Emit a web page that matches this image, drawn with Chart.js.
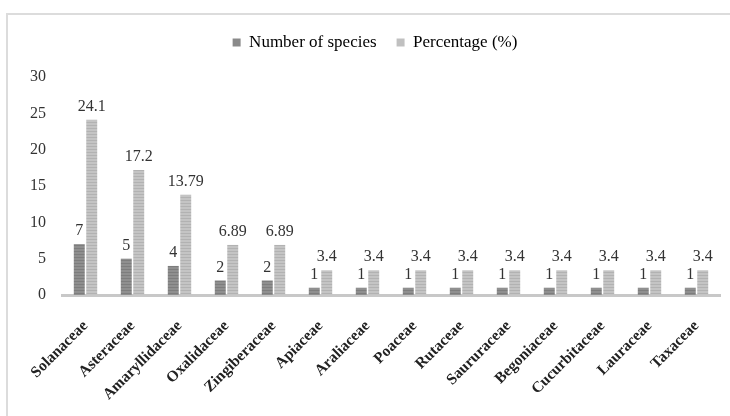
<!DOCTYPE html>
<html lang="en">
<head>
    <meta charset="UTF-8">
    <script src="https://cdn.jsdelivr.net/npm/chart.js"></script>
    <title>Families</title>
    <style>
        body { margin: 0; background: #fff; }
        .frame {
            position: absolute; left: 6px; top: 13px; width: 740px; height: 420px;
            border: 2px solid #dcdcdc; box-sizing: border-box;
        }
        #wrap { position: absolute; left: 0; top: 0; width: 730px; height: 416px; }
    </style>
</head>
<body>
    <div class="frame"></div>
    <div id="wrap"><canvas id="famChart"></canvas></div>

    <script>
        // chart data
        const families = ['Solanaceae', 'Asteraceae', 'Amaryllidaceae', 'Oxalidaceae', 'Zingiberaceae',
            'Apiaceae', 'Araliaceae', 'Poaceae', 'Rutaceae', 'Saururaceae', 'Begoniaceae',
            'Cucurbitaceae', 'Lauraceae', 'Taxaceae'];
        const speciesCount = [7, 5, 4, 2, 2, 1, 1, 1, 1, 1, 1, 1, 1, 1];
        const percentValues = [24.1, 17.2, 13.79, 6.89, 6.89, 3.4, 3.4, 3.4, 3.4, 3.4, 3.4, 3.4, 3.4, 3.4];
        const percentLabels = ['24.1', '17.2', '13.79', '6.89', '6.89', '3.4', '3.4', '3.4', '3.4', '3.4', '3.4', '3.4', '3.4', '3.4'];
        const yTicks = [0, 5, 10, 15, 20, 25, 30];

        // striped fill like the scanned figure
        function stripes(base, line) {
            const c = document.createElement('canvas');
            c.width = 4; c.height = 3;
            const g = c.getContext('2d');
            g.fillStyle = base;
            g.fillRect(0, 0, 4, 3);
            g.fillStyle = line;
            g.fillRect(0, 2, 4, 1);
            return g.createPattern(c, 'repeat');
        }

        // value labels above each bar
        const valueLabels = {
            id: 'valueLabels',
            afterDatasetsDraw(chart) {
                const ctx = chart.ctx;
                ctx.save();
                ctx.font = '16px "Liberation Serif", serif';
                ctx.fillStyle = '#333';
                ctx.textAlign = 'center';
                ctx.textBaseline = 'bottom';
                chart.data.datasets.forEach((ds, i) => {
                    chart.getDatasetMeta(i).data.forEach((bar, j) => {
                        const txt = i === 0 ? String(speciesCount[j]) : percentLabels[j];
                        ctx.fillText(txt, bar.x, bar.y - 5);
                    });
                });
                ctx.restore();
            }
        };

        // extra room under the legend
        const legendGap = {
            id: 'legendGap',
            beforeInit(chart) {
                const fit = chart.legend.fit;
                chart.legend.fit = function () {
                    fit.bind(chart.legend)();
                    this.height += 16;
                };
            }
        };

        const ctx = document.getElementById('famChart').getContext('2d');
        new Chart(ctx, {
            type: 'bar',
            data: {
                labels: families,
                datasets: [{
                    label: 'Number of species',
                    data: speciesCount,
                    backgroundColor: stripes('#8f8f8f', '#7d7d7d'),
                    barPercentage: 0.88,
                    categoryPercentage: 0.53
                }, {
                    label: 'Percentage (%)',
                    data: percentValues,
                    backgroundColor: stripes('#c4c4c4', '#b2b2b2'),
                    barPercentage: 0.88,
                    categoryPercentage: 0.53
                }]
            },
            options: {
                responsive: true,
                maintainAspectRatio: false,
                animation: false,
                layout: { padding: { top: 14, right: 10, left: 30, bottom: 0 } },
                plugins: {
                    legend: {
                        position: 'top',
                        labels: {
                            boxWidth: 8, boxHeight: 8,
                            color: '#333',
                            padding: 20,
                            font: { family: '"Liberation Serif", serif', size: 17 },
                            generateLabels(chart) {
                                return chart.data.datasets.map((ds, i) => ({
                                    text: ds.label,
                                    fillStyle: i === 0 ? '#8a8a8a' : '#c0c0c0',
                                    strokeStyle: 'transparent',
                                    lineWidth: 0,
                                    datasetIndex: i
                                }));
                            }
                        }
                    },
                    tooltip: { enabled: false }
                },
                scales: {
                    x: {
                        grid: { display: false, drawTicks: false },
                        border: { color: '#c8c8c8', width: 3 },
                        afterFit(scale) {
                            scale.height = 121;
                            scale.paddingLeft = 0;
                            scale.paddingRight = 0;
                        },
                        ticks: {
                            color: '#222',
                            maxRotation: 45, minRotation: 45,
                            padding: 22,
                            font: { family: '"Liberation Serif", serif', size: 15.5, weight: 'bold' }
                        }
                    },
                    y: {
                        min: 0, max: 30,
                        afterBuildTicks(scale) {
                            scale.ticks = yTicks.map(v => ({ value: v }));
                        },
                        afterFit(scale) {
                            scale.width = 32;
                        },
                        grid: { display: false, drawTicks: false },
                        border: { display: false },
                        ticks: {
                            color: '#333',
                            padding: 16,
                            font: { family: '"Liberation Serif", serif', size: 16 }
                        }
                    }
                }
            },
            plugins: [valueLabels, legendGap]
        });
    </script>
</body>
</html>
